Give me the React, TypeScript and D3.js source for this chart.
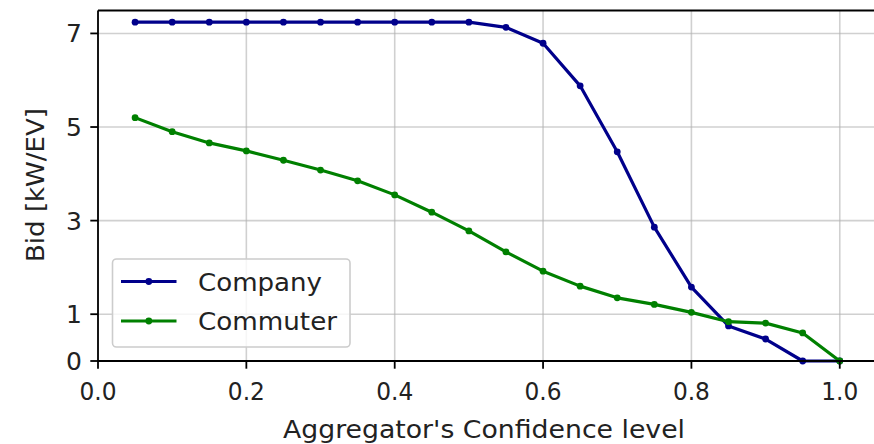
import React from "react";
import * as d3 from "d3";

const confidence = [0.05, 0.1, 0.15, 0.2, 0.25, 0.3, 0.35, 0.4, 0.45, 0.5, 0.55, 0.6, 0.65, 0.7, 0.75, 0.8, 0.85, 0.9, 0.95, 1.0];
const company = [7.24, 7.24, 7.24, 7.24, 7.24, 7.24, 7.24, 7.24, 7.24, 7.24, 7.13, 6.79, 5.88, 4.47, 2.86, 1.58, 0.75, 0.47, 0.0, 0.0];
const commuter = [5.2, 4.9, 4.66, 4.49, 4.29, 4.08, 3.85, 3.55, 3.18, 2.78, 2.33, 1.92, 1.6, 1.35, 1.21, 1.04, 0.84, 0.81, 0.6, 0.0];
const xTicks = [0.0, 0.2, 0.4, 0.6, 0.8, 1.0];
const yTicks = [0, 1, 3, 5, 7];
const seriesNames = ["Company", "Commuter"];
const seriesColors = ["#00008b", "#008000"];
const legendTextWidths = [124, 139];

const W = 874;
const H = 444;
const left = 98;
const right = 875;
const top = 10.5;
const bottom = 361;
const FONT = "DejaVu Sans, sans-serif";
const FS = 25;

export default function App() {
  const x = d3.scaleLinear().domain([0, 1.0475]).range([left, right]);
  const y = d3.scaleLinear().domain([0, 7.49]).range([bottom, top]);
  const series = [company, commuter];
  const line = d3
    .line<[number, number]>()
    .x((d) => x(d[0]))
    .y((d) => y(d[1]));

  return (
    <svg
      width={W}
      height={H}
      style={{ position: "absolute", left: 0, top: 0, background: "#fff" }}
      fontFamily={FONT}
    >
      <rect x={0} y={0} width={W} height={H} fill="#fff" />
      {xTicks.map((t) => (
        <line key={"gx" + t} x1={x(t)} x2={x(t)} y1={top} y2={bottom} stroke="#b0b0b0" strokeOpacity={0.6} strokeWidth={1.6} />
      ))}
      {yTicks.map((t) => (
        <line key={"gy" + t} x1={left} x2={right} y1={y(t)} y2={y(t)} stroke="#b0b0b0" strokeOpacity={0.6} strokeWidth={1.6} />
      ))}
      {series.map((s, i) => {
        const pts = confidence.map((c, j) => [c, s[j]] as [number, number]);
        return (
          <g key={"s" + i}>
            <path d={line(pts) || ""} fill="none" stroke={seriesColors[i]} strokeWidth={3.2} strokeLinejoin="round" strokeLinecap="square" />
            {pts.map((p, j) => (
              <circle key={j} cx={x(p[0])} cy={y(p[1])} r={3.4} fill={seriesColors[i]} />
            ))}
          </g>
        );
      })}
      <line x1={left} x2={left} y1={top} y2={bottom} stroke="#000" strokeWidth={1.8} />
      <line x1={left} x2={W} y1={bottom} y2={bottom} stroke="#000" strokeWidth={1.8} />
      <line x1={left} x2={W} y1={top} y2={top} stroke="#000" strokeWidth={1.8} />
      {xTicks.map((t) => (
        <g key={"tx" + t}>
          <line x1={x(t)} x2={x(t)} y1={bottom} y2={bottom + 7.7} stroke="#000" strokeWidth={1.8} />
          <text x={x(t)} y={bottom + 39} textAnchor="middle" fontSize={FS} fill="#222" textLength={37} lengthAdjust="spacingAndGlyphs">
            {t.toFixed(1)}
          </text>
        </g>
      ))}
      {yTicks.map((t) => (
        <g key={"ty" + t}>
          <line x1={left - 7.7} x2={left} y1={y(t)} y2={y(t)} stroke="#000" strokeWidth={1.8} />
          <text x={left - 16} y={y(t)} dy="0.36em" textAnchor="end" fontSize={FS} fill="#222">
            {t}
          </text>
        </g>
      ))}
      <text x={283} y={437.5} fontSize={FS} fill="#222" textLength={402} lengthAdjust="spacingAndGlyphs">
        Aggregator's Confidence level
      </text>
      <text transform={`translate(44, 185) rotate(-90)`} textAnchor="middle" fontSize={FS} fill="#222" textLength={154} lengthAdjust="spacingAndGlyphs">
        Bid [kW/EV]
      </text>
      <rect x={112.5} y={259} width={237.5} height={88} rx={4} fill="#fff" fillOpacity={0.8} stroke="#cccccc" strokeWidth={1.6} />
      {seriesNames.map((n, i) => {
        const cy = 281.5 + i * 39.5;
        return (
          <g key={"l" + n}>
            <line x1={121} x2={176.5} y1={cy} y2={cy} stroke={seriesColors[i]} strokeWidth={3.2} />
            <circle cx={148.8} cy={cy} r={3.4} fill={seriesColors[i]} />
            <text x={198} y={cy} dy="0.36em" fontSize={FS} fill="#222" textLength={legendTextWidths[i]} lengthAdjust="spacingAndGlyphs">
              {n}
            </text>
          </g>
        );
      })}
    </svg>
  );
}
